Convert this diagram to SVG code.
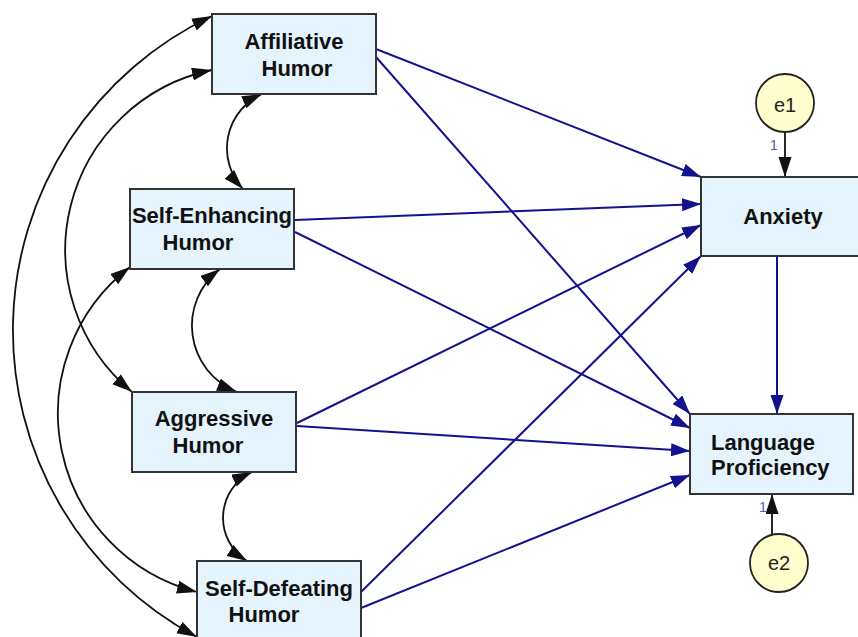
<svg xmlns="http://www.w3.org/2000/svg" width="858" height="637" viewBox="0 0 858 637">
<style>
.box{fill:#e5f3fc;stroke:#333;stroke-width:2}
.err{fill:#fffdcc;stroke:#222;stroke-width:1.8}
.lbl{font-family:"Liberation Sans",Arial,sans-serif;font-size:22px;font-weight:bold;fill:#111;text-anchor:middle}
.elbl{font-family:"Liberation Sans",Arial,sans-serif;font-size:20px;fill:#222;text-anchor:middle}
.one{font-family:"Liberation Sans",Arial,sans-serif;font-size:14px;text-anchor:middle}
.path{fill:none;stroke:#12128f;stroke-width:2;marker-end:url(#ab)}
.cov{fill:none;stroke:#111;stroke-width:1.8;marker-start:url(#ak);marker-end:url(#ak)}
.reg{fill:none;stroke:#111;stroke-width:1.8;marker-end:url(#ak2)}
</style>
<defs>
<marker id="ab" markerUnits="userSpaceOnUse" markerWidth="20" markerHeight="14" refX="19" refY="6.5" orient="auto"><path d="M0,0 L19,6.5 L0,13 z" fill="#12128f"/></marker>
<marker id="ak" markerUnits="userSpaceOnUse" markerWidth="21" markerHeight="14" refX="20" refY="6.5" orient="auto-start-reverse"><path d="M0,0 L20,6.5 L0,13 z" fill="#111"/></marker>
<marker id="ak2" markerUnits="userSpaceOnUse" markerWidth="21" markerHeight="14" refX="20" refY="6.5" orient="auto"><path d="M0,0 L20,6.5 L0,13 z" fill="#111"/></marker>
</defs>
<g id="connectors">
<path class="cov" d="M212,16 A347.6,347.6 0 0 0 197,637"/>
<path class="cov" d="M212,70 A184,184 0 0 0 132,392"/>
<path class="cov" d="M130,267 A184.4,184.4 0 0 0 197,592"/>
<path class="cov" d="M262,94 A59.6,59.6 0 0 0 243,189"/>
<path class="cov" d="M220,269 A71.3,71.3 0 0 0 237,392"/>
<path class="cov" d="M252,472 A50.8,50.8 0 0 0 247,561"/>
<path class="path" d="M376,49 L701,177"/>
<path class="path" d="M376,57 L690,414"/>
<path class="path" d="M295,220 L701,204"/>
<path class="path" d="M295,232 L690,428"/>
<path class="path" d="M297,423 L701,225"/>
<path class="path" d="M297,426 L690,451"/>
<path class="path" d="M361,592 L701,256"/>
<path class="path" d="M361,608 L690,475"/>
<path class="path" d="M777,256 L777,414"/>
<path class="reg" d="M785,132 L785,177"/>
<path class="reg" d="M772,535 L772,494"/>
</g>
<g id="affiliative">
<rect class="box" x="212" y="14" width="164" height="80"/>
<text class="lbl" x="294" y="49">Affiliative</text>
<text class="lbl" x="297" y="76">Humor</text>
</g>
<g id="selfenhancing">
<rect class="box" x="130" y="189" width="164" height="80"/>
<text class="lbl" x="212" y="223">Self-Enhancing</text>
<text class="lbl" x="198" y="250">Humor</text>
</g>
<g id="aggressive">
<rect class="box" x="132" y="392" width="164" height="80"/>
<text class="lbl" x="214" y="426">Aggressive</text>
<text class="lbl" x="208" y="453">Humor</text>
</g>
<g id="selfdefeating">
<rect class="box" x="197" y="561" width="164" height="80"/>
<text class="lbl" x="279" y="596">Self-Defeating</text>
<text class="lbl" x="264" y="622">Humor</text>
</g>
<g id="anxiety">
<rect class="box" x="701" y="177" width="164" height="79"/>
<text class="lbl" x="783" y="224">Anxiety</text>
</g>
<g id="language">
<rect class="box" x="690" y="414" width="163" height="80"/>
<text class="lbl" x="711" y="450" style="text-anchor:start">Language</text>
<text class="lbl" x="711" y="475" style="text-anchor:start">Proficiency</text>
</g>
<g id="e1">
<circle class="err" cx="785" cy="103" r="29"/>
<text class="elbl" x="785" y="112">e1</text>
<text class="one" x="774" y="150" fill="#6a4f92">1</text>
</g>
<g id="e2">
<circle class="err" cx="779" cy="563" r="29"/>
<text class="elbl" x="779" y="570">e2</text>
<text class="one" x="763" y="512" fill="#4a66b0">1</text>
</g>
</svg>
